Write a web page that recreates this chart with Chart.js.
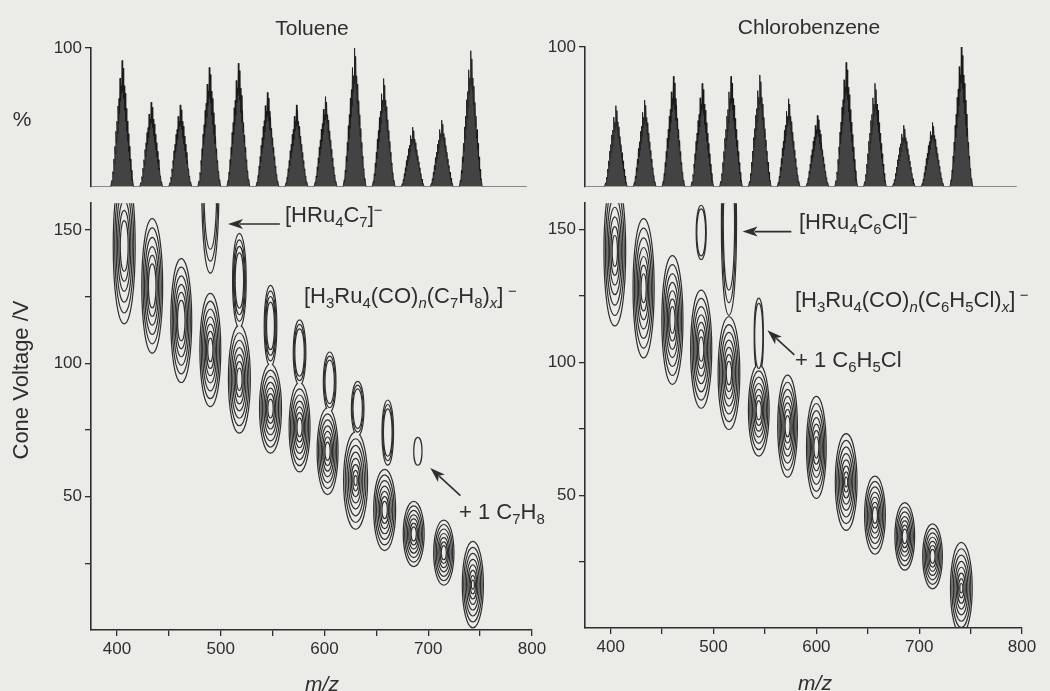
<!DOCTYPE html>
<html>
<head>
<meta charset="utf-8">
<script src="https://cdn.jsdelivr.net/npm/chart.js@4.4.1/dist/chart.umd.min.js"></script>
<style>
  html, body { margin: 0; padding: 0; background: #ebebe8; overflow: hidden; }
  body { width: 1050px; height: 691px; position: relative; font-family: "Liberation Sans", Arial, sans-serif; color: #2e2e2e; }
  canvas { position: absolute; }
  .t { position: absolute; white-space: nowrap; line-height: 1; font-size: 22px; transform: translateY(-50%); }
  .c { transform: translate(-50%, -50%); font-size: 21px; }
  sub, sup { font-size: 0.68em; line-height: 0; }
  sub { vertical-align: -0.32em; }
  sup { vertical-align: 0.5em; }
</style>
</head>
<body>
<canvas id="tolSpec" width="550" height="200" style="left:0;top:0"></canvas>
<canvas id="tolMap" width="550" height="501" style="left:0;top:190px"></canvas>
<canvas id="cbzSpec" width="550" height="200" style="left:500px;top:0"></canvas>
<canvas id="cbzMap" width="550" height="501" style="left:500px;top:190px"></canvas>

<div class="t c" style="left:312px;top:27px">Toluene</div>
<div class="t c" style="left:809px;top:26px">Chlorobenzene</div>
<div class="t c" style="left:22px;top:118px">%</div>
<div class="t c" style="left:21px;top:380px;transform:translate(-50%,-50%) rotate(-90deg);font-size:22px">Cone Voltage /V</div>
<div class="t c" style="left:322px;top:683px"><i>m/z</i></div>
<div class="t c" style="left:815px;top:682px"><i>m/z</i></div>

<div class="t" style="left:285px;top:215px">[HRu<sub>4</sub>C<sub>7</sub>]<sup>&minus;</sup></div>
<div class="t" style="left:304px;top:296px">[H<sub>3</sub>Ru<sub>4</sub>(CO)<sub><i>n</i></sub>(C<sub>7</sub>H<sub>8</sub>)<sub><i>x</i></sub>]&thinsp;<sup>&minus;</sup></div>
<div class="t" style="left:459px;top:512px">+ 1 C<sub>7</sub>H<sub>8</sub></div>
<div class="t" style="left:799px;top:222px">[HRu<sub>4</sub>C<sub>6</sub>Cl]<sup>&minus;</sup></div>
<div class="t" style="left:795px;top:300px">[H<sub>3</sub>Ru<sub>4</sub>(CO)<sub><i>n</i></sub>(C<sub>6</sub>H<sub>5</sub>Cl)<sub><i>x</i></sub>]&thinsp;<sup>&minus;</sup></div>
<div class="t" style="left:795px;top:360px">+ 1 C<sub>6</sub>H<sub>5</sub>Cl</div>

<script>
// Mass spectra (top): cluster centres and heights in %
const ionMz = [405, 433, 461, 489, 517, 545, 573, 601, 629, 657, 685, 713, 741];
const tolPeakHeight = [91, 61, 59, 86, 89, 68, 59, 65, 100, 78, 43, 48, 98];
const cbzPeakHeight = [58, 62, 79, 74, 79, 80, 63, 51, 89, 74, 44, 46, 100];

const clusterOffset = [-11, -10, -9.5, -9, -8.5, -8, -7.5, -7, -6.5, -6, -5.5, -5, -4.5, -4, -3.5, -3, -2.5, -2, -1.5, -1, -0.5,
  0, 0.5, 1, 1.5, 2, 2.5, 3, 3.5, 4, 4.5, 5, 5.5, 6, 6.5, 7, 7.5, 8, 8.5, 9, 9.5, 10, 11];
const clusterShape = [0, 0.05, 0.04, 0.12, 0.1, 0.22, 0.18, 0.32, 0.26, 0.44, 0.35, 0.52, 0.42, 0.64, 0.5, 0.7, 0.58, 0.86, 0.68, 0.8, 0.74,
  1.0, 0.76, 0.94, 0.7, 0.8, 0.6, 0.74, 0.52, 0.62, 0.44, 0.52, 0.36, 0.42, 0.28, 0.32, 0.2, 0.22, 0.12, 0.13, 0.05, 0.06, 0];
const baselineMz = [376, 795];

// Contour maps (bottom): centre m/z, centre cone voltage, half height (V), half width (m/z), number of contours
const tolSpotMz     = [407, 434, 462, 490, 490, 518, 518, 548, 548, 576, 576, 603, 605, 630, 632, 658, 661, 686, 690, 715, 743];
const tolSpotVolt   = [144, 129, 116, 105, 166, 94, 131, 83, 114, 76, 104, 67, 93, 56, 83, 45, 74, 36, 67, 29, 17];
const tolSpotHalfV  = [29, 25, 23, 21, 32, 20, 17.5, 16.5, 15, 16.5, 12, 16, 11, 18, 10, 15, 12, 12, 5, 12, 16];
const tolSpotHalfMz = [10, 9.5, 9.5, 9.5, 7.7, 10, 6, 10, 5.5, 9.5, 5.5, 9.5, 5.5, 11, 5.5, 10, 5, 9.5, 3.4, 9.2, 9.6];
const tolSpotLevels = [6, 6, 6, 7, 3, 7, 4, 7, 4, 7, 3, 7, 3, 8, 3, 7, 3, 7, 1, 7, 8];

const cbzSpotMz     = [404, 432, 460, 488, 488, 515, 515, 544, 544, 572, 600, 629, 657, 686, 713, 741];
const cbzSpotVolt   = [142, 128, 116, 105, 149, 96, 152, 82, 110, 76, 68, 55, 42.5, 34.5, 27, 15];
const cbzSpotHalfV  = [28, 26, 24, 22, 10, 21, 34, 17, 14, 19, 19, 18, 14.5, 12.5, 12, 17];
const cbzSpotHalfMz = [10, 9.7, 9.7, 9.7, 4.3, 10, 6.8, 9.5, 3.9, 9, 9, 10, 9.5, 9, 9, 10];
const cbzSpotLevels = [7, 7, 7, 7, 2, 7, 3, 7, 2, 7, 7, 8, 7, 7, 7, 8];

const mzTicks = [400, 450, 500, 550, 600, 650, 700, 750, 800];
const voltTicks = [25, 50, 75, 100, 125, 150];
const pctTicks = [100];

// relative size of each nested contour level
const levelScale = [1, 0.86, 0.72, 0.58, 0.45, 0.32, 0.2, 0.09];

const ink = '#2e2e2e';
const paper = '#ebebe8';
Chart.defaults.font.family = '"Liberation Sans", Arial, sans-serif';
Chart.defaults.color = ink;

function spectrum(heights) {
  const pts = [{ x: baselineMz[0], y: 0 }];
  ionMz.forEach((c, i) => {
    clusterOffset.forEach((o, j) => pts.push({ x: c + o, y: heights[i] * clusterShape[j] }));
  });
  pts.push({ x: baselineMz[1], y: 0 });
  return pts;
}

function spots(mz, volt, hv, hmz, lev) {
  return mz.map((m, i) => ({ x: m, y: volt[i], hx: hmz[i], hy: hv[i], levels: lev[i] }));
}

const contourPlugin = {
  id: 'contours',
  afterDatasetsDraw(chart) {
    const { ctx, chartArea: a, scales: { x, y } } = chart;
    const data = chart.data.datasets[0].data;
    const maxLev = Math.max(...data.map(s => s.levels));
    ctx.save();
    ctx.beginPath();
    ctx.rect(a.left + 1, a.top, a.right - a.left, a.bottom - a.top - 1);
    ctx.clip();
    for (let k = 0; k < maxLev; k++) {
      const f = levelScale[k];
      const rings = data.filter(s => s.levels > k).map(s => {
        const cx = x.getPixelForValue(s.x), cy = y.getPixelForValue(s.y);
        return {
          cx, cy,
          rx: Math.abs(x.getPixelForValue(s.x + s.hx * f) - cx),
          ry: Math.abs(y.getPixelForValue(s.y + s.hy * f) - cy)
        };
      });
      // stroke double width then fill, so overlapping spots merge into one outline
      ctx.lineWidth = 2.4;
      ctx.strokeStyle = ink;
      rings.forEach(r => { ctx.beginPath(); ctx.ellipse(r.cx, r.cy, r.rx, r.ry, 0, 0, Math.PI * 2); ctx.stroke(); });
      ctx.fillStyle = paper;
      rings.forEach(r => { ctx.beginPath(); ctx.ellipse(r.cx, r.cy, r.rx, r.ry, 0, 0, Math.PI * 2); ctx.fill(); });
    }
    ctx.restore();
  }
};

const arrowPlugin = {
  id: 'arrows',
  afterDraw(chart, args, opts) {
    const { ctx, scales: { x, y } } = chart;
    (opts.list || []).forEach(ar => {
      const x1 = x.getPixelForValue(ar.from[0]), y1 = y.getPixelForValue(ar.from[1]);
      const x2 = x.getPixelForValue(ar.to[0]), y2 = y.getPixelForValue(ar.to[1]);
      const ang = Math.atan2(y2 - y1, x2 - x1);
      const len = 15, half = 5;
      ctx.save();
      ctx.strokeStyle = ink;
      ctx.fillStyle = ink;
      ctx.lineWidth = 1.6;
      ctx.beginPath();
      ctx.moveTo(x1, y1);
      ctx.lineTo(x2 - Math.cos(ang) * len * 0.8, y2 - Math.sin(ang) * len * 0.8);
      ctx.stroke();
      ctx.translate(x2, y2);
      ctx.rotate(ang);
      ctx.beginPath();
      ctx.moveTo(0, 0);
      ctx.lineTo(-len, -half);
      ctx.lineTo(-len * 0.75, 0);
      ctx.lineTo(-len, half);
      ctx.closePath();
      ctx.fill();
      ctx.restore();
    });
  }
};

const tickFont = { size: 17 };

function axisY(min, max, ticks, width) {
  return {
    min, max,
    afterBuildTicks: s => { s.ticks = ticks.map(v => ({ value: v })); },
    afterFit: s => { s.width = width; },
    ticks: { font: tickFont, color: ink, padding: 3, callback: v => (v % 50 === 0 ? v : '') },
    grid: { drawOnChartArea: false, tickLength: 6, color: ink, lineWidth: 1.3 },
    border: { display: true, color: ink, width: 1.6 }
  };
}

function axisX(height) {
  return {
    type: 'linear', min: 375, max: 800,
    afterBuildTicks: s => { s.ticks = mzTicks.map(v => ({ value: v })); },
    afterFit: s => { s.height = height; },
    ticks: { font: tickFont, color: ink, padding: 3, maxRotation: 0, autoSkip: false, callback: v => (v % 100 === 0 ? v : '') },
    grid: { drawOnChartArea: false, tickLength: 6, color: ink, lineWidth: 1.3 },
    border: { display: true, color: ink, width: 1.6 }
  };
}

function specChart(id, heights, pad, yWidth) {
  return new Chart(document.getElementById(id), {
    type: 'line',
    data: {
      datasets: [{
        data: spectrum(heights),
        borderColor: '#1c1c1c',
        borderWidth: 0.9,
        backgroundColor: 'rgba(38,38,38,0.85)',
        fill: 'origin',
        pointRadius: 0,
        tension: 0
      }]
    },
    options: {
      responsive: false, animation: false, events: [],
      layout: { padding: pad },
      plugins: { legend: { display: false }, tooltip: { enabled: false } },
      scales: {
        x: { type: 'linear', min: 375, max: 800, display: false },
        y: axisY(0, 100, pctTicks, yWidth)
      }
    }
  });
}

function mapChart(id, data, pad, yWidth, xHeight, arrows) {
  return new Chart(document.getElementById(id), {
    type: 'scatter',
    data: { datasets: [{ data, pointRadius: 0 }] },
    options: {
      responsive: false, animation: false, events: [],
      layout: { padding: pad },
      plugins: { legend: { display: false }, tooltip: { enabled: false }, arrows: { list: arrows } },
      scales: {
        x: axisX(xHeight),
        y: axisY(0, 160, voltTicks, yWidth)
      }
    },
    plugins: [contourPlugin, arrowPlugin]
  });
}

specChart('tolSpec', tolPeakHeight, { left: 0, top: 48, right: 18, bottom: 10 }, 91);
specChart('cbzSpec', cbzPeakHeight, { left: 0, top: 47, right: 28, bottom: 13 }, 85);

mapChart('tolMap', spots(tolSpotMz, tolSpotVolt, tolSpotHalfV, tolSpotHalfMz, tolSpotLevels),
  { left: 0, top: 6, right: 18, bottom: 0 }, 91, 61,
  [{ from: [557, 152.2], to: [507, 152.2] }, { from: [731, 50.4], to: [702, 60.7] }]);
mapChart('cbzMap', spots(cbzSpotMz, cbzSpotVolt, cbzSpotHalfV, cbzSpotHalfMz, cbzSpotLevels),
  { left: 0, top: 3, right: 28, bottom: 0 }, 85, 63,
  [{ from: [575.7, 149.3], to: [528.2, 149.3] }, { from: [578.6, 102.9], to: [552.4, 112.1] }]);
</script>
</body>
</html>
